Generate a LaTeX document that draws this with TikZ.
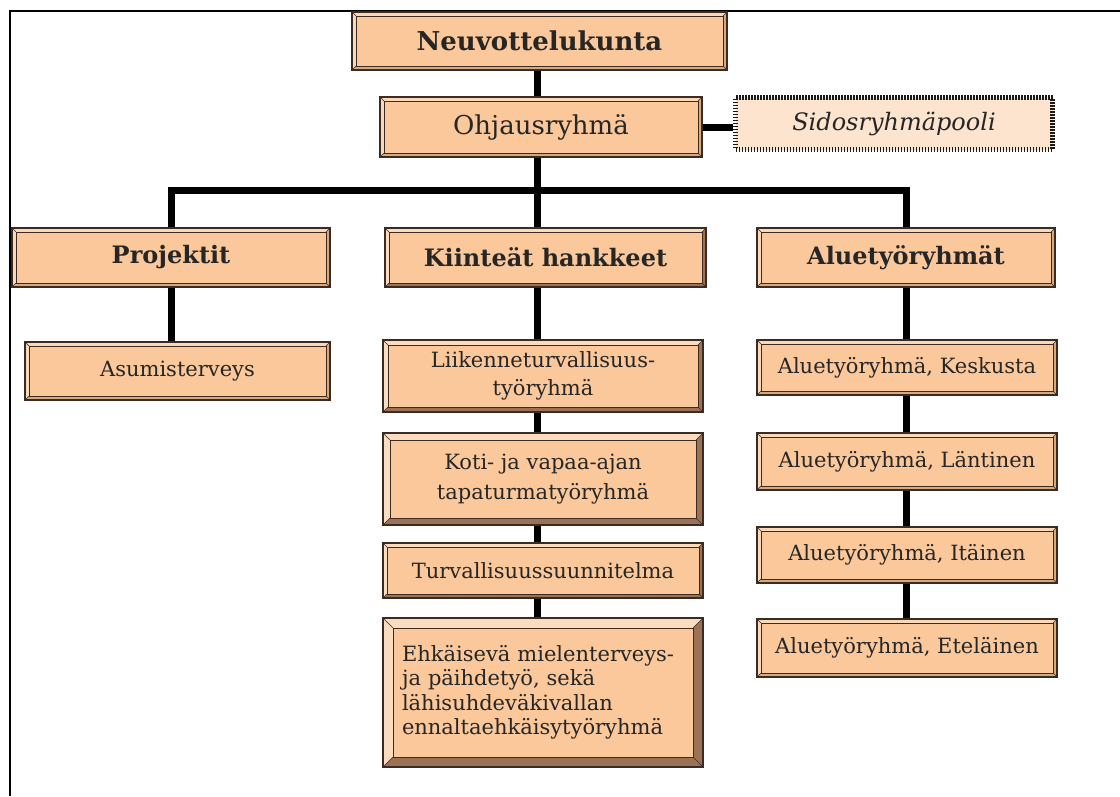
\documentclass[tikz,border=0pt]{standalone}
\usepackage{fontspec}
\setmainfont{DejaVu Serif}
\definecolor{peach}{HTML}{FAC89A}
\definecolor{peachlt}{HTML}{FCE4CF}
\definecolor{edge}{HTML}{3B2B22}
\definecolor{bevlt}{HTML}{FCDCBE}
\definecolor{bevdk}{HTML}{9A7258}
\begin{document}
\begin{tikzpicture}[x=1pt,y=-1pt,
  boxbase/.style={fill=peach, draw=edge, line width=1.3pt, inner sep=2pt, align=center,
    font=\fontsize{21}{28}\selectfont, text=black!85},
  bev/.style n args={3}{boxbase, path picture={
    \path (path picture bounding box.north west) coordinate (pw)
          (path picture bounding box.south east) coordinate (pe);
    \coordinate (iw) at ([xshift=#1pt,yshift=-#1pt]pw);
    \coordinate (ie) at ([xshift=-#1pt,yshift=#1pt]pe);
    \fill[#2] (pw) -- (pw -| pe) -- (iw -| ie) -- (iw) -- (iw |- ie) -- (pw |- pe) -- cycle;
    \fill[#3] (pe) -- (pe |- pw) -- (ie |- iw) -- (ie) -- (ie -| iw) -- (pe -| pw) -- cycle;
    \draw[edge, line width=0.9pt] (iw) rectangle (ie);
    \draw[edge, line width=0.5pt] (pw) -- (iw) (pe) -- (ie) (pw -| pe) -- (iw -| ie) (pw |- pe) -- (iw |- ie);
  }},
  sbox/.style={bev={4}{peach!70!white}{peach!85!black}},
  bbox/.style={bev={#1}{bevlt}{bevdk}},
  toptitle/.style={font=\bfseries\fontsize{26}{30}\selectfont},
  headtitle/.style={font=\bfseries\fontsize{24}{28}\selectfont},
  poolbox/.style={fill=peachlt, inner sep=2pt, font=\itshape\fontsize{24}{28}\selectfont, text=black!85,
    preaction={draw=black!45, line width=5pt},
    draw=black!90, line width=5pt, dash pattern=on 1.5pt off 1.5pt},
  conn/.style={line width=7pt, black}
]
\useasboundingbox (0,0) rectangle (1120,796);
\fill[white] (0,0) rectangle (1120,796);
\draw[line width=1.5pt] (1120,11) -- (10,11) -- (10,796);

\coordinate (bus) at (537,190);

% top
\node[sbox, toptitle, minimum width=375pt, minimum height=58pt] (neuv) at (539.5,41) {Neuvottelukunta};
\node[sbox, font=\fontsize{26}{30}\selectfont, minimum width=322pt, minimum height=60pt] (ohj) at (541,127) {Ohjausryhmä};
\node[poolbox, minimum width=317pt, minimum height=52pt] (pool) at (894,123.5) {Sidosryhmäpooli};

% level 2
\node[sbox, headtitle, minimum width=318pt, minimum height=59pt] (proj) at (171,257.5) {Projektit};
\node[bbox=4, headtitle, minimum width=321pt, minimum height=59pt] (kiint) at (545.5,257.5) {Kiinteät hankkeet};
\node[sbox, headtitle, minimum width=298pt, minimum height=59pt] (alue) at (906,257.5) {Aluetyöryhmät};

% projektit
\node[sbox, minimum width=305pt, minimum height=58pt] (asum) at (177.5,371) {Asumisterveys};

% kiinteat hankkeet
\node[bbox=5, minimum width=320pt, minimum height=72pt] (liik) at (543,376) {Liikenneturvallisuus-\\työryhmä};
\node[bbox=7, minimum width=320pt, minimum height=92pt, font=\fontsize{21}{30}\selectfont] (koti) at (543,479) {Koti- ja vapaa-ajan\\tapaturmatyöryhmä};
\node[bbox=4, minimum width=320pt, minimum height=55pt] (turv) at (543,570.5) {Turvallisuussuunnitelma};
\node[bbox=10, align=left, text width=282pt, inner xsep=19pt, minimum height=149pt,
  font=\fontsize{21}{24.5}\selectfont] (ehk) at (543,692.5)
  {Ehkäisevä mielenterveys-\\ja päihdetyö, sekä\\lähisuhdeväkivallan\\ennaltaehkäisytyöryhmä\\[4pt]};

% aluetyoryhmat
\node[sbox, minimum width=300pt, minimum height=55pt] (kesk) at (907,367.5) {Aluetyöryhmä, Keskusta};
\node[sbox, minimum width=300pt, minimum height=57pt] (lant) at (907,461.5) {Aluetyöryhmä, Läntinen};
\node[sbox, minimum width=300pt, minimum height=56pt] (ita) at (907,555) {Aluetyöryhmä, Itäinen};
\node[sbox, minimum width=300pt, minimum height=58pt] (etel) at (907,648) {Aluetyöryhmä, Eteläinen};

% connectors
\draw[conn] (neuv.south -| bus) -- (ohj.north -| bus);
\draw[conn] (ohj.east) -- (ohj.east -| pool.west);
\draw[conn] (ohj.south -| bus) -- (bus);
\draw[conn] (proj.north) |- (bus) -| (alue.north);
\draw[conn] (bus) -- (kiint.north -| bus);
\draw[conn] (proj.south) -- (proj.south |- asum.north);
\draw[conn] (kiint.south -| bus) -- (liik.north -| bus);
\draw[conn] (liik.south -| bus) -- (koti.north -| bus);
\draw[conn] (koti.south -| bus) -- (turv.north -| bus);
\draw[conn] (turv.south -| bus) -- (ehk.north -| bus);
\draw[conn] (alue.south) -- (kesk.north -| alue.south);
\draw[conn] (kesk.south -| alue.south) -- (lant.north -| alue.south);
\draw[conn] (lant.south -| alue.south) -- (ita.north -| alue.south);
\draw[conn] (ita.south -| alue.south) -- (etel.north -| alue.south);
\end{tikzpicture}
\end{document}
